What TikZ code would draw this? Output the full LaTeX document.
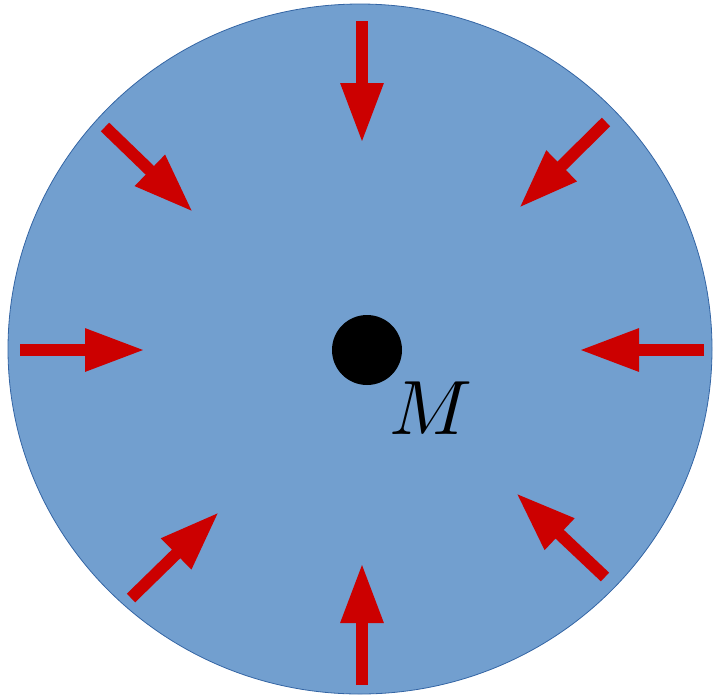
\documentclass[tikz,border=0pt]{standalone}
\usetikzlibrary{arrows.meta}

\definecolor{diskfill}{RGB}{114,159,207}
\definecolor{diskline}{RGB}{52,101,164}
\definecolor{pushred}{RGB}{204,0,0}

\begin{document}
\begin{tikzpicture}[
    x=1pt, y=-1pt,
    disk/.style={fill=diskfill, draw=diskline, line width=0.8pt},
    push/.style={pushred, line width=12pt, -{Triangle[length=60pt, width=40pt]}},
    mass/.style={circle, fill=black, minimum size=70pt, inner sep=0pt}
]
    \useasboundingbox (0,0) rectangle (714,697);

    % Disk
    \fill[disk] (360,349) ellipse [x radius=352, y radius=345];

    % Mass point
    \node[mass] (mass) at (367,350) {};
    \node[inner sep=0pt, scale=7.7] (mlabel) at (431,408) {$M$};

    % Arrow ends
    \coordinate (nS) at (362,21);   \coordinate (nE) at (362,143);
    \coordinate (sS) at (362,685);  \coordinate (sE) at (362,563);
    \coordinate (wS) at (20,350);   \coordinate (wE) at (145,350);
    \coordinate (eS) at (704,350);  \coordinate (eE) at (579,350);
    \coordinate (nwS) at (105,127); \coordinate (nwE) at (193,212);
    \coordinate (neS) at (606,122); \coordinate (neE) at (519,208);
    \coordinate (swS) at (131,598); \coordinate (swE) at (219,512);
    \coordinate (seS) at (605,577); \coordinate (seE) at (516,493);

    % Inward pressure
    \draw[push] (nS) -- (nE);
    \draw[push] (sS) -- (sE);
    \draw[push] (wS) -- (wE);
    \draw[push] (eS) -- (eE);
    \draw[push] (nwS) -- (nwE);
    \draw[push] (neS) -- (neE);
    \draw[push] (swS) -- (swE);
    \draw[push] (seS) -- (seE);
\end{tikzpicture}
\end{document}
